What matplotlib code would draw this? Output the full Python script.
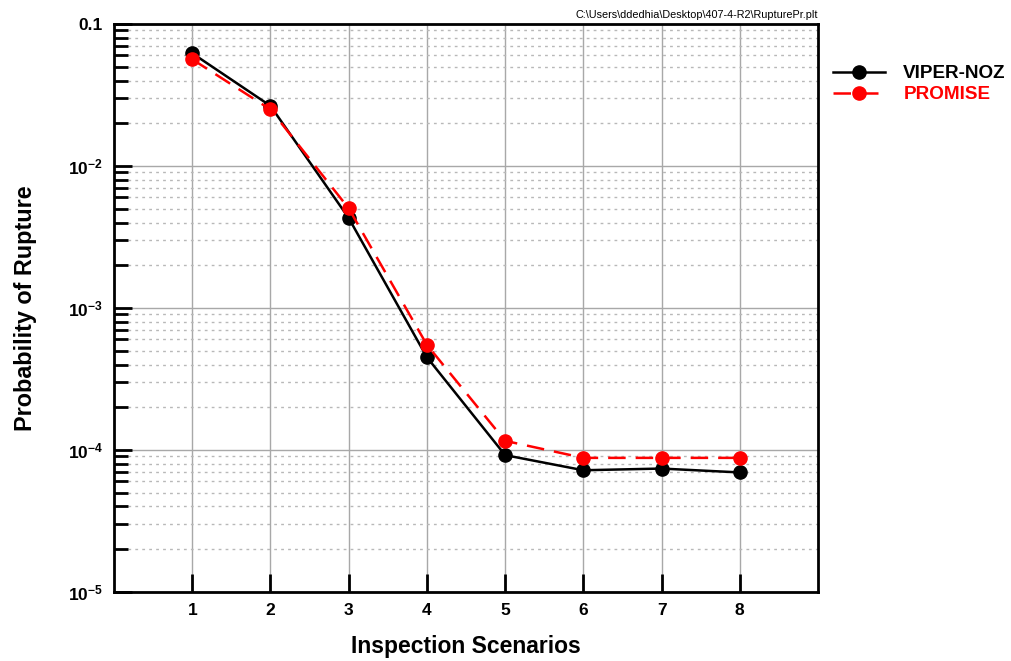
import numpy as np
import matplotlib
matplotlib.use("Agg")
import matplotlib.pyplot as plt
from matplotlib.ticker import FixedLocator, FixedFormatter, LogLocator, NullFormatter

plt.rcParams["font.family"] = ["Liberation Sans", "DejaVu Sans"]
plt.rcParams["mathtext.fontset"] = "custom"
plt.rcParams["mathtext.rm"] = "Liberation Sans:bold"
plt.rcParams["mathtext.bf"] = "Liberation Sans:bold"

scenarios = [1, 2, 3, 4, 5, 6, 7, 8]
viper_noz = [0.0622, 0.0265, 0.0043, 0.00045, 9.2e-5, 7.2e-5, 7.4e-5, 6.95e-5]
promise = [0.0564, 0.0250, 0.00503, 0.00055, 1.16e-4, 8.8e-5, 8.8e-5, 8.8e-5]
y_ticks = [1e-5, 1e-4, 1e-3, 1e-2, 1e-1]
y_labels = [r"$\mathbf{10^{-5}}$", r"$\mathbf{10^{-4}}$", r"$\mathbf{10^{-3}}$",
            r"$\mathbf{10^{-2}}$", "0.1"]

fig = plt.figure(figsize=(10.11, 6.61), dpi=100)
ax = fig.add_axes([0.1128, 0.1044, 0.6963, 0.8593])

ax.plot(scenarios, viper_noz, color="black", lw=1.8, marker="o", ms=9.5,
        label="VIPER-NOZ", zorder=4)
ax.plot(scenarios, promise, color="red", lw=1.8, ls=(0, (7, 4)), marker="o",
        ms=9.5, label="PROMISE", zorder=5)

ax.set_yscale("log")
ax.set_xlim(0, 9)
ax.set_ylim(1e-5, 0.1)
ax.xaxis.set_major_locator(FixedLocator(scenarios))
ax.yaxis.set_major_locator(FixedLocator(y_ticks))
ax.yaxis.set_major_formatter(FixedFormatter(y_labels))
ax.yaxis.set_minor_locator(LogLocator(base=10, subs=np.arange(2, 10)))
ax.yaxis.set_minor_formatter(NullFormatter())

ax.grid(True, which="major", axis="both", color="#a8a8a8", lw=1.0, ls="-")
ax.grid(True, which="minor", axis="y", color="#b8b8b8", lw=1.0, ls=(0, (2, 3)))
ax.set_axisbelow(True)

for s in ax.spines.values():
    s.set_linewidth(2)
ax.tick_params(axis="both", which="major", direction="in", length=13, width=2,
               labelsize=12.5, top=False, right=False, pad=8)
ax.tick_params(axis="y", which="minor", direction="in", length=10, width=2,
               right=False)
for lab in ax.get_xticklabels():
    lab.set_fontweight("bold")
for lab in ax.get_yticklabels():
    lab.set_fontweight("bold")

ax.set_xlabel("Inspection Scenarios", fontsize=16.5, fontweight="bold", labelpad=12)
ax.set_ylabel("Probability of Rupture", fontsize=16.8, fontweight="bold", labelpad=22)
ax.set_title(r"C:\Users\ddedhia\Desktop\407-4-R2\RupturePr.plt", fontsize=7.8,
             loc="right", pad=4)

leg = fig.legend(loc="upper left", bbox_to_anchor=(0.816, 0.913), frameon=False,
                 handlelength=2.8, numpoints=1, prop={"weight": "bold", "size": 13.6},
                 labelspacing=0.2, handletextpad=0.95, borderaxespad=0.0)
for txt, col in zip(leg.get_texts(), ["black", "red"]):
    txt.set_color(col)

fig.savefig("out.png", dpi=100)
